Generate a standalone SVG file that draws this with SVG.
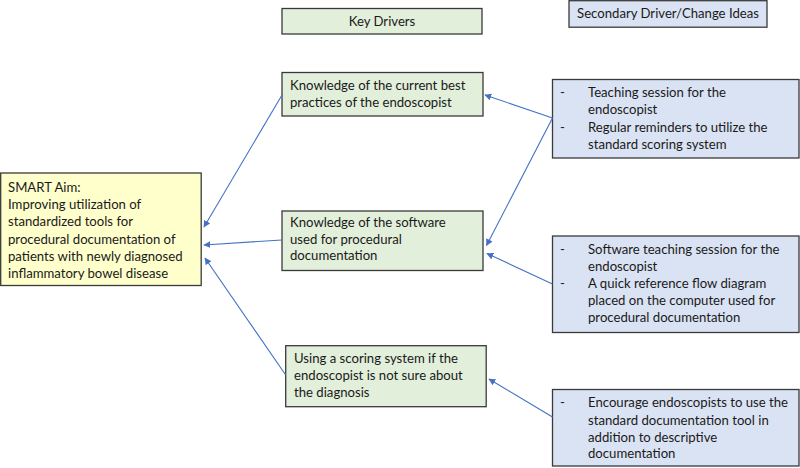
<svg xmlns="http://www.w3.org/2000/svg" width="800" height="468" viewBox="0 0 800 468">
<style>
text{font-family:Lato,"Liberation Sans",sans-serif;font-size:13.15px;fill:#1a1a1a}
.box{stroke:#3a3a3a;stroke-width:1.3}
.g{fill:#E2EFDA}.b{fill:#DAE3F3}.y{fill:#FFFFCC}
.c line{stroke:#4472C4;stroke-width:1.1;marker-end:url(#ah)}
.m{text-anchor:middle}
</style>
<defs>
<marker id="ah" viewBox="0 0 10 10" refX="9" refY="5" markerWidth="7" markerHeight="7" markerUnits="userSpaceOnUse" orient="auto">
<path d="M0,0 L10,5 L0,10 z" fill="#4472C4"/>
</marker>
</defs>
<rect width="800" height="468" fill="#fff"/>
<g id="key-drivers-header"><rect class="box g" x="282" y="8.5" width="200" height="25.5"/><text class="m" x="382" y="26">Key Drivers</text></g>
<g id="secondary-header"><rect class="box b" x="569" y="0.7" width="198" height="26.5"/><text class="m" x="668" y="18.3">Secondary Driver/Change Ideas</text></g>
<g id="smart-aim"><rect class="box y" x="0.7" y="173" width="200.5" height="112.5"/>
<text x="8" y="192">SMART Aim:</text>
<text x="8" y="209">Improving utilization of</text>
<text x="8" y="226.3">standardized tools for</text>
<text x="8" y="243.5">procedural documentation of</text>
<text x="8" y="260.7">patients with newly diagnosed</text>
<text x="8" y="277.5">inflammatory bowel disease</text></g>
<g id="kd1"><rect class="box g" x="282" y="72.5" width="201" height="43.5"/>
<text x="290" y="90">Knowledge of the current best</text>
<text x="290" y="107">practices of the endoscopist</text></g>
<g id="kd2"><rect class="box g" x="282" y="211" width="201" height="59.5"/>
<text x="290" y="226.7">Knowledge of the software</text>
<text x="290" y="243.5">used for procedural</text>
<text x="290" y="260.3">documentation</text></g>
<g id="kd3"><rect class="box g" x="285.7" y="345.7" width="200.5" height="61"/>
<text x="294" y="363.3">Using a scoring system if the</text>
<text x="294" y="380">endoscopist is not sure about</text>
<text x="294" y="396.7">the diagnosis</text></g>
<g id="sd1"><rect class="box b" x="552.5" y="79.5" width="246.5" height="78.5"/>
<text x="560" y="96.7">-</text><text x="588" y="96.7">Teaching session for the</text>
<text x="588" y="114.3">endoscopist</text>
<text x="560" y="131.7">-</text><text x="588" y="131.7">Regular reminders to utilize the</text>
<text x="588" y="149">standard scoring system</text></g>
<g id="sd2"><rect class="box b" x="552.5" y="236" width="246.5" height="96.5"/>
<text x="560" y="254.3">-</text><text x="588" y="254.3">Software teaching session for the</text>
<text x="588" y="271">endoscopist</text>
<text x="560" y="288">-</text><text x="588" y="288">A quick reference flow diagram</text>
<text x="588" y="305">placed on the computer used for</text>
<text x="588" y="321.7">procedural documentation</text></g>
<g id="sd3"><rect class="box b" x="552.5" y="389.5" width="246.5" height="76.5"/>
<text x="560" y="407.3">-</text><text x="588" y="407.3">Encourage endoscopists to use the</text>
<text x="588" y="424.7">standard documentation tool in</text>
<text x="588" y="441.7">addition to descriptive</text>
<text x="588" y="458.3">documentation</text></g>
<g id="connectors" class="c">
<line x1="282" y1="95" x2="204" y2="227"/>
<line x1="282" y1="240" x2="204" y2="245"/>
<line x1="285.7" y1="375" x2="205" y2="258"/>
<line x1="552.5" y1="118" x2="485" y2="95"/>
<line x1="552.5" y1="118" x2="486.5" y2="245.5"/>
<line x1="552.5" y1="284" x2="487" y2="253.5"/>
<line x1="552.5" y1="417" x2="489" y2="379"/>
</g>
</svg>
